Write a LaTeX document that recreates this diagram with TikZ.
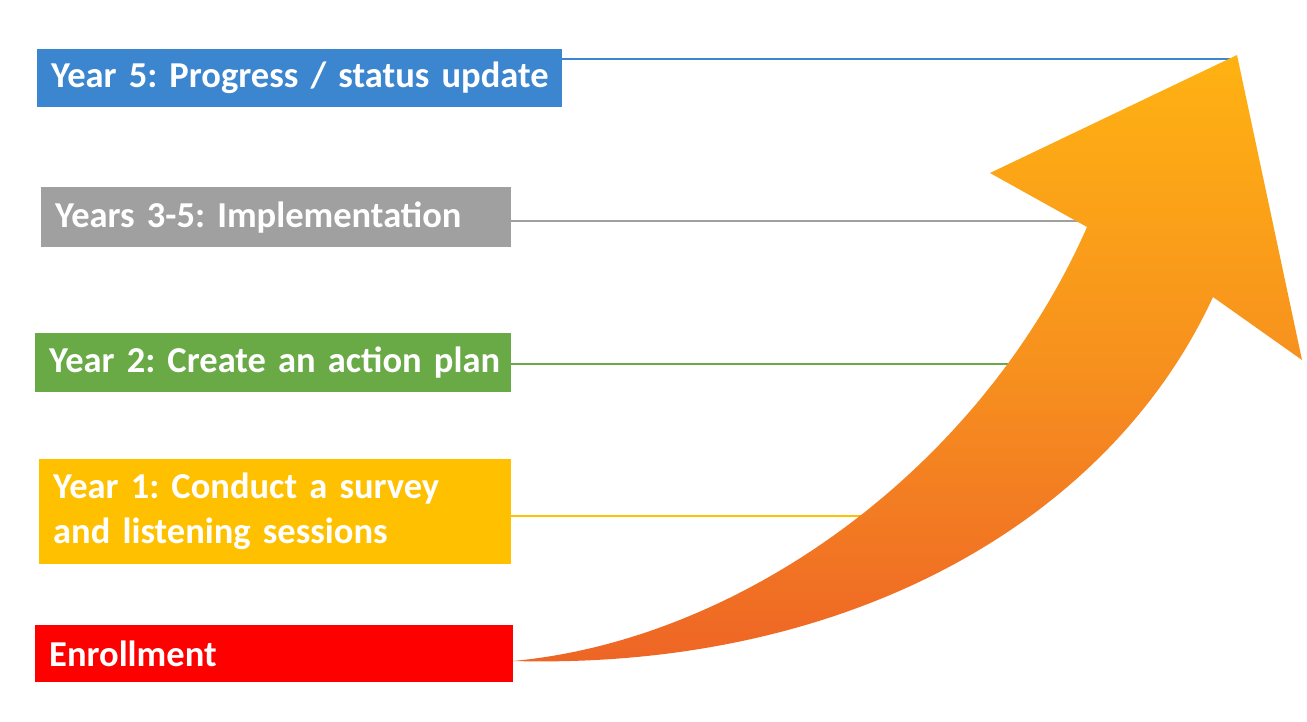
\documentclass[tikz,border=0pt]{standalone}
\usepackage{fontspec}
\setmainfont{Carlito}
\definecolor{cblue}{RGB}{60,133,207}
\definecolor{cgray}{RGB}{160,160,160}
\definecolor{cgreen}{RGB}{105,170,70}
\definecolor{cyellow}{RGB}{255,192,0}
\definecolor{cred}{RGB}{255,0,0}
\definecolor{arrowtop}{RGB}{255,178,18}
\definecolor{arrowmid}{RGB}{247,145,30}
\definecolor{arrowbot}{RGB}{238,100,38}
\tikzset{
  stagebox/.style={anchor=north west, inner xsep=14pt, inner ysep=0pt, align=left,
    text=white, font=\fontsize{36.5}{45}\selectfont\bfseries\frenchspacing},
  stageline/.style={line width=1.3pt}
}
\begin{document}
\begin{tikzpicture}[x=1pt,y=-1pt]
\useasboundingbox (0,0) rectangle (1307,721);
\fill[white] (0,0) rectangle (1307,721);
% boxes
\node[stagebox, fill=cblue, text width=497pt, minimum height=58pt] (y5) at (37,49) {\mbox{Year 5: Progress / status update}};
\node[stagebox, fill=cgray, text width=442pt, minimum height=60pt] (y35) at (41,187) {\mbox{Years 3-5: Implementation}};
\node[stagebox, fill=cgreen, text width=448pt, minimum height=59pt] (y2) at (35,333) {\mbox{Year 2: Create an action plan}};
\node[stagebox, fill=cyellow, text width=444pt, minimum height=105pt] (y1) at (39,459) {\mbox{Year 1: Conduct a survey}\\\mbox{and listening sessions}};
\node[stagebox, fill=cred, text width=450pt, minimum height=57pt] (en) at (35,625) {\mbox{Enrollment}};
% connector end points
\coordinate (e5) at (1232,59);
\coordinate (e35) at (1090,221);
\coordinate (e2) at (1012,364);
\coordinate (e1) at (866,516);
\coordinate (tail) at (513,661);
\draw[stageline, cblue] (y5.east |- e5) -- (e5);
\draw[stageline, cgray] (y35.east |- e35) -- (e35);
\draw[stageline, cgreen] (y2.east |- e2) -- (e2);
\draw[stageline, cyellow] (y1.east |- e1) -- (e1);
% arrow
\shade[top color=arrowtop, bottom color=arrowbot, middle color=arrowmid]
  (tail) .. controls (740,640) and (980,470) .. (1087,227)
  -- (990,173) -- (1237,55) -- (1302,360) -- (1213,297)
  .. controls (1110,520) and (850,670) .. (tail) -- cycle;
\end{tikzpicture}
\end{document}
